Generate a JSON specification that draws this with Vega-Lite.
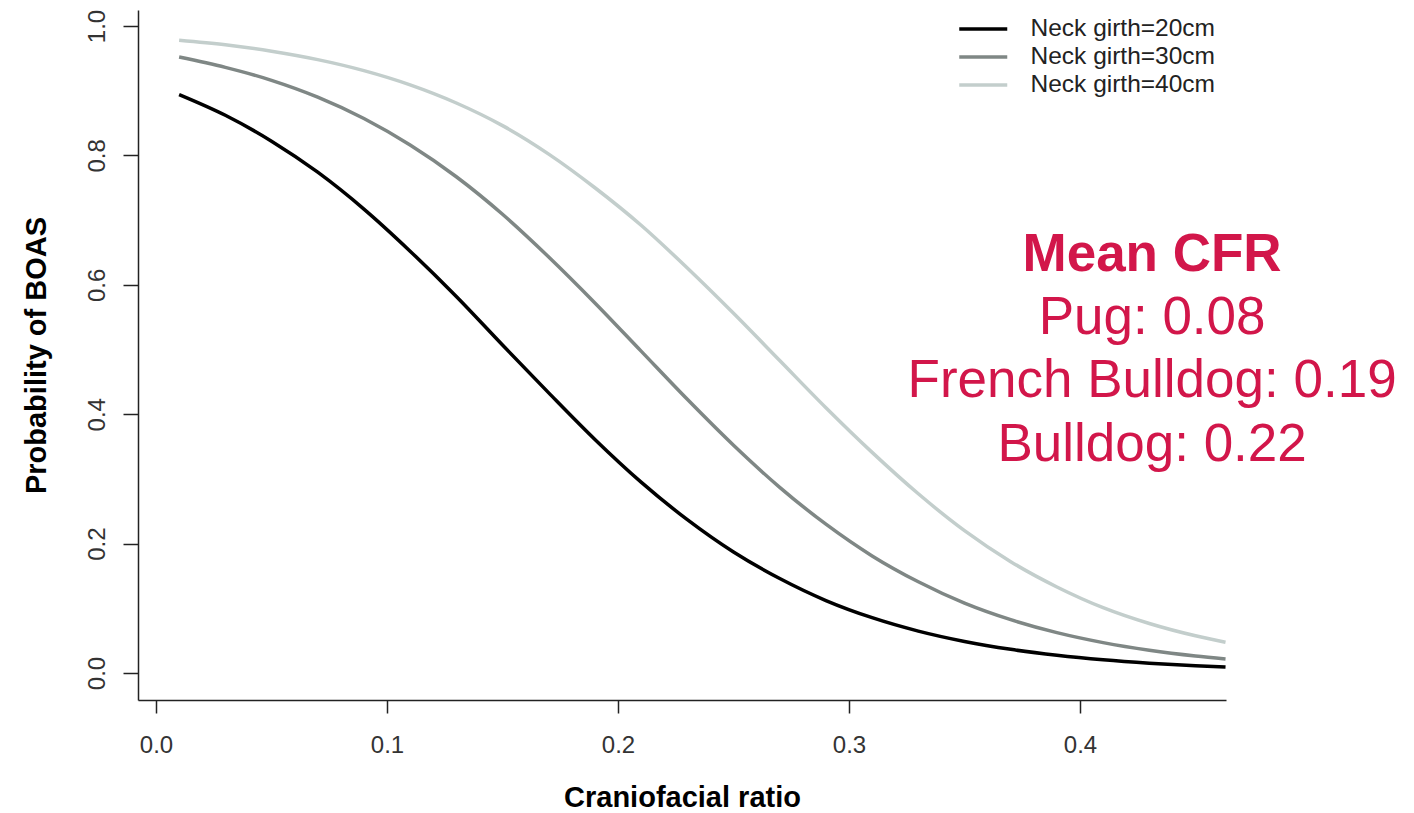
{
  "$schema": "https://vega.github.io/schema/vega-lite/v6.json",
  "width": 1088,
  "height": 690,
  "autosize": {"type": "none"},
  "padding": {"left": 138, "top": 10, "right": 188, "bottom": 113},
  "background": "white",
  "config": {
    "view": {"stroke": null},
    "font": "Liberation Sans, Arial, sans-serif",
    "axis": {
      "grid": false,
      "domainColor": "#222222",
      "domainWidth": 1.5,
      "tickColor": "#222222",
      "tickWidth": 1.5,
      "labelColor": "#333333",
      "labelFont": "Liberation Sans, Arial, sans-serif",
      "labelFontSize": 24,
      "labelFlush": false,
      "labelOverlap": false,
      "titleFont": "Liberation Sans, Arial, sans-serif",
      "titleFontSize": 29,
      "titleFontWeight": "bold",
      "titleColor": "#000000"
    },
    "legend": {"padding": 0}
  },
  "layer": [
    {
      "data": {
        "values": [
          {"cfr": 0.01, "p": 0.894, "girth": "Neck girth=20cm"},
          {"cfr": 0.03, "p": 0.862, "girth": "Neck girth=20cm"},
          {"cfr": 0.05, "p": 0.822, "girth": "Neck girth=20cm"},
          {"cfr": 0.07, "p": 0.774, "girth": "Neck girth=20cm"},
          {"cfr": 0.09, "p": 0.717, "girth": "Neck girth=20cm"},
          {"cfr": 0.11, "p": 0.652, "girth": "Neck girth=20cm"},
          {"cfr": 0.13, "p": 0.582, "girth": "Neck girth=20cm"},
          {"cfr": 0.15, "p": 0.507, "girth": "Neck girth=20cm"},
          {"cfr": 0.17, "p": 0.433, "girth": "Neck girth=20cm"},
          {"cfr": 0.19, "p": 0.361, "girth": "Neck girth=20cm"},
          {"cfr": 0.21, "p": 0.295, "girth": "Neck girth=20cm"},
          {"cfr": 0.23, "p": 0.237, "girth": "Neck girth=20cm"},
          {"cfr": 0.25, "p": 0.187, "girth": "Neck girth=20cm"},
          {"cfr": 0.27, "p": 0.146, "girth": "Neck girth=20cm"},
          {"cfr": 0.29, "p": 0.112, "girth": "Neck girth=20cm"},
          {"cfr": 0.31, "p": 0.0855, "girth": "Neck girth=20cm"},
          {"cfr": 0.33, "p": 0.0648, "girth": "Neck girth=20cm"},
          {"cfr": 0.35, "p": 0.0488, "girth": "Neck girth=20cm"},
          {"cfr": 0.37, "p": 0.0366, "girth": "Neck girth=20cm"},
          {"cfr": 0.39, "p": 0.0274, "girth": "Neck girth=20cm"},
          {"cfr": 0.41, "p": 0.0204, "girth": "Neck girth=20cm"},
          {"cfr": 0.43, "p": 0.0152, "girth": "Neck girth=20cm"},
          {"cfr": 0.45, "p": 0.0113, "girth": "Neck girth=20cm"},
          {"cfr": 0.463, "p": 0.0093, "girth": "Neck girth=20cm"},
          {"cfr": 0.01, "p": 0.952, "girth": "Neck girth=30cm"},
          {"cfr": 0.03, "p": 0.936, "girth": "Neck girth=30cm"},
          {"cfr": 0.05, "p": 0.916, "girth": "Neck girth=30cm"},
          {"cfr": 0.07, "p": 0.890, "girth": "Neck girth=30cm"},
          {"cfr": 0.09, "p": 0.857, "girth": "Neck girth=30cm"},
          {"cfr": 0.11, "p": 0.816, "girth": "Neck girth=30cm"},
          {"cfr": 0.13, "p": 0.767, "girth": "Neck girth=30cm"},
          {"cfr": 0.15, "p": 0.709, "girth": "Neck girth=30cm"},
          {"cfr": 0.17, "p": 0.643, "girth": "Neck girth=30cm"},
          {"cfr": 0.19, "p": 0.572, "girth": "Neck girth=30cm"},
          {"cfr": 0.21, "p": 0.4975, "girth": "Neck girth=30cm"},
          {"cfr": 0.23, "p": 0.423, "girth": "Neck girth=30cm"},
          {"cfr": 0.25, "p": 0.352, "girth": "Neck girth=30cm"},
          {"cfr": 0.27, "p": 0.287, "girth": "Neck girth=30cm"},
          {"cfr": 0.29, "p": 0.230, "girth": "Neck girth=30cm"},
          {"cfr": 0.31, "p": 0.181, "girth": "Neck girth=30cm"},
          {"cfr": 0.33, "p": 0.141, "girth": "Neck girth=30cm"},
          {"cfr": 0.35, "p": 0.108, "girth": "Neck girth=30cm"},
          {"cfr": 0.37, "p": 0.0824, "girth": "Neck girth=30cm"},
          {"cfr": 0.39, "p": 0.0624, "girth": "Neck girth=30cm"},
          {"cfr": 0.41, "p": 0.0470, "girth": "Neck girth=30cm"},
          {"cfr": 0.43, "p": 0.0352, "girth": "Neck girth=30cm"},
          {"cfr": 0.45, "p": 0.0263, "girth": "Neck girth=30cm"},
          {"cfr": 0.463, "p": 0.0218, "girth": "Neck girth=30cm"},
          {"cfr": 0.01, "p": 0.978, "girth": "Neck girth=40cm"},
          {"cfr": 0.03, "p": 0.971, "girth": "Neck girth=40cm"},
          {"cfr": 0.05, "p": 0.961, "girth": "Neck girth=40cm"},
          {"cfr": 0.07, "p": 0.948, "girth": "Neck girth=40cm"},
          {"cfr": 0.09, "p": 0.931, "girth": "Neck girth=40cm"},
          {"cfr": 0.11, "p": 0.909, "girth": "Neck girth=40cm"},
          {"cfr": 0.13, "p": 0.881, "girth": "Neck girth=40cm"},
          {"cfr": 0.15, "p": 0.846, "girth": "Neck girth=40cm"},
          {"cfr": 0.17, "p": 0.802, "girth": "Neck girth=40cm"},
          {"cfr": 0.19, "p": 0.750, "girth": "Neck girth=40cm"},
          {"cfr": 0.21, "p": 0.692, "girth": "Neck girth=40cm"},
          {"cfr": 0.23, "p": 0.626, "girth": "Neck girth=40cm"},
          {"cfr": 0.25, "p": 0.556, "girth": "Neck girth=40cm"},
          {"cfr": 0.27, "p": 0.483, "girth": "Neck girth=40cm"},
          {"cfr": 0.29, "p": 0.410, "girth": "Neck girth=40cm"},
          {"cfr": 0.31, "p": 0.341, "girth": "Neck girth=40cm"},
          {"cfr": 0.33, "p": 0.277, "girth": "Neck girth=40cm"},
          {"cfr": 0.35, "p": 0.220, "girth": "Neck girth=40cm"},
          {"cfr": 0.37, "p": 0.172, "girth": "Neck girth=40cm"},
          {"cfr": 0.39, "p": 0.133, "girth": "Neck girth=40cm"},
          {"cfr": 0.41, "p": 0.101, "girth": "Neck girth=40cm"},
          {"cfr": 0.43, "p": 0.0765, "girth": "Neck girth=40cm"},
          {"cfr": 0.45, "p": 0.0575, "girth": "Neck girth=40cm"},
          {"cfr": 0.463, "p": 0.0476, "girth": "Neck girth=40cm"}
        ]
      },
      "mark": {"type": "line", "strokeWidth": 3.5, "interpolate": "monotone"},
      "encoding": {
        "x": {
          "field": "cfr",
          "type": "quantitative",
          "scale": {"domain": [-0.0078, 0.4632], "nice": false, "zero": false},
          "axis": {
            "title": "Craniofacial ratio",
            "values": [0, 0.1, 0.2, 0.3, 0.4],
            "format": ".1f",
            "tickSize": 13,
            "labelPadding": 20,
            "titlePadding": 26
          }
        },
        "y": {
          "field": "p",
          "type": "quantitative",
          "scale": {"domain": [-0.0417, 1.0247], "nice": false, "zero": false},
          "axis": {
            "title": "Probability of BOAS",
            "values": [0, 0.2, 0.4, 0.6, 0.8, 1],
            "format": ".1f",
            "tickSize": 15,
            "labelAngle": 270,
            "labelAlign": "center",
            "labelBaseline": "bottom",
            "labelPadding": 14,
            "titlePadding": 34
          }
        },
        "color": {
          "field": "girth",
          "type": "nominal",
          "scale": {
            "domain": ["Neck girth=20cm", "Neck girth=30cm", "Neck girth=40cm"],
            "range": ["#000000", "#7f8785", "#c3cecc"]
          },
          "legend": {
            "title": null,
            "orient": "none",
            "legendX": 833,
            "legendY": 6.75,
            "symbolType": "M-4,0H4",
            "symbolSize": 144,
            "symbolStrokeWidth": 3.5,
            "labelOffset": 35,
            "labelFontSize": 24.5,
            "labelLimit": 400,
            "labelColor": "#222222",
            "labelFont": "Liberation Sans, Arial, sans-serif",
            "rowPadding": 3
          }
        }
      }
    },
    {
      "data": {"values": [{}]},
      "mark": {
        "type": "text",
        "text": "Mean CFR",
        "font": "Liberation Sans, Arial, sans-serif",
        "fontSize": 53,
        "fontWeight": "bold",
        "color": "#d2164a",
        "align": "center",
        "baseline": "middle"
      },
      "encoding": {
        "x": {"datum": 0.4312, "type": "quantitative"},
        "y": {"datum": 0.646, "type": "quantitative"}
      }
    },
    {
      "data": {"values": [{}]},
      "mark": {
        "type": "text",
        "text": ["Pug: 0.08", "French Bulldog: 0.19", "Bulldog: 0.22"],
        "lineHeight": 63.5,
        "font": "Liberation Sans, Arial, sans-serif",
        "fontSize": 53,
        "color": "#d2164a",
        "align": "center",
        "baseline": "middle"
      },
      "encoding": {
        "x": {"datum": 0.4312, "type": "quantitative"},
        "y": {"datum": 0.5487, "type": "quantitative"}
      }
    }
  ]
}
